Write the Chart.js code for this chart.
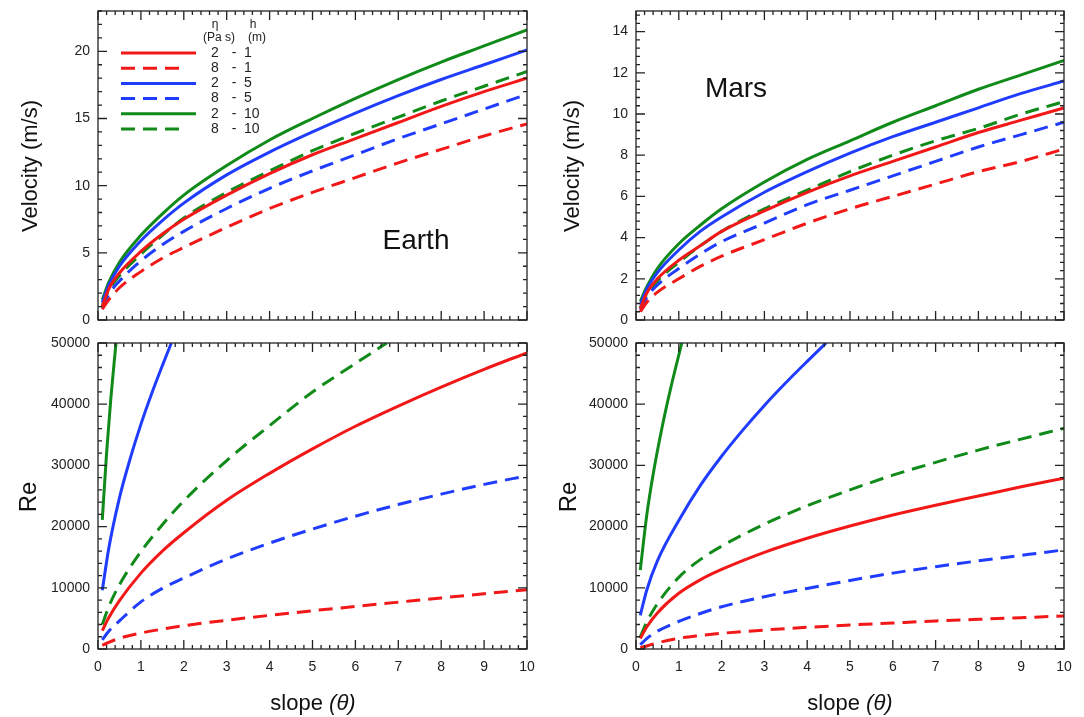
<!DOCTYPE html>
<html>
<head>
<meta charset="utf-8">
<script src="https://cdn.jsdelivr.net/npm/chart.js@4.4.1/dist/chart.umd.min.js"></script>
<style>
  body { margin: 0; background: #fff; }
  #wrap { position: relative; width: 1084px; height: 717px; font-family: Arial, "Liberation Sans", sans-serif; color: #111; }
  canvas { position: absolute; left: 0; top: 0; }
  .lbl { position: absolute; white-space: nowrap; transform: translate(-50%, -50%); }
  .rot { transform: translate(-50%, -50%) rotate(-90deg); }
</style>
</head>
<body>
<div id="wrap">
  <canvas id="velEarth" width="1084" height="717"></canvas>
  <canvas id="reEarth" width="1084" height="717"></canvas>
  <canvas id="velMars" width="1084" height="717"></canvas>
  <canvas id="reMars" width="1084" height="717"></canvas>

  <div class="lbl rot" style="left:30px;top:166px;font-size:22px">Velocity (m/s)</div>
  <div class="lbl rot" style="left:572px;top:166px;font-size:22px">Velocity (m/s)</div>
  <div class="lbl rot" style="left:28px;top:497px;font-size:24px">Re</div>
  <div class="lbl rot" style="left:568px;top:497px;font-size:24px">Re</div>
  <div class="lbl" style="left:313px;top:703px;font-size:22px">slope <i>(&theta;)</i></div>
  <div class="lbl" style="left:850px;top:703px;font-size:22px">slope <i>(&theta;)</i></div>
  <div class="lbl" style="left:416px;top:240px;font-size:28px">Earth</div>
  <div class="lbl" style="left:736px;top:88px;font-size:28px">Mars</div>
</div>
<script>
// slope values (degrees) shared by most curves
const slope = [0.1, 0.25, 0.5, 1, 1.5, 2, 3, 4, 5, 6, 7, 8, 9, 10];

// legend entries: viscosity eta (Pa s) and thickness h (m)
const etaVals = ['2', '8', '2', '8', '2', '8'];
const hVals = ['1', '1', '5', '5', '10', '10'];

// Earth velocity (m/s)
const vE_2_1  = [1.0, 2.3, 3.5, 5.1, 6.4, 7.5, 9.3, 10.9, 12.3, 13.5, 14.7, 15.9, 17.0, 18.0];
const vE_8_1  = [0.8, 1.5, 2.4, 3.6, 4.6, 5.4, 6.9, 8.3, 9.5, 10.6, 11.7, 12.7, 13.7, 14.6];
const vE_2_5  = [1.3, 2.6, 4.0, 5.9, 7.4, 8.7, 10.8, 12.5, 14.0, 15.4, 16.7, 17.9, 19.0, 20.1];
const vE_8_5  = [0.9, 1.9, 2.9, 4.4, 5.6, 6.6, 8.3, 9.8, 11.1, 12.3, 13.5, 14.6, 15.7, 16.8];
const vE_2_10 = [1.5, 2.8, 4.3, 6.3, 7.9, 9.3, 11.5, 13.4, 15.0, 16.5, 17.9, 19.2, 20.4, 21.6];
const vE_8_10 = [1.1, 2.2, 3.3, 4.9, 6.3, 7.6, 9.5, 11.1, 12.6, 13.9, 15.1, 16.3, 17.4, 18.5];

// Mars velocity (m/s)
const vM_2_1  = [0.55, 1.3, 2.0, 2.9, 3.6, 4.3, 5.3, 6.2, 7.0, 7.7, 8.4, 9.1, 9.7, 10.3];
const vM_8_1  = [0.4, 0.85, 1.35, 2.0, 2.6, 3.1, 3.9, 4.7, 5.4, 6.0, 6.6, 7.2, 7.7, 8.3];
const vM_2_5  = [0.75, 1.5, 2.3, 3.4, 4.3, 5.0, 6.2, 7.2, 8.1, 8.9, 9.6, 10.3, 11.0, 11.6];
const vM_8_5  = [0.5, 1.1, 1.7, 2.5, 3.2, 3.8, 4.7, 5.6, 6.3, 7.0, 7.7, 8.4, 9.0, 9.6];
const vM_2_10 = [0.9, 1.6, 2.5, 3.7, 4.6, 5.4, 6.7, 7.8, 8.7, 9.6, 10.4, 11.2, 11.9, 12.6];
const vM_8_10 = [0.6, 1.25, 1.9, 2.8, 3.6, 4.3, 5.4, 6.3, 7.2, 8.0, 8.7, 9.3, 10.0, 10.6];

// Earth Reynolds number
const reE_2_1  = [3000, 5100, 7900, 12400, 16000, 19000, 24300, 28700, 32700, 36400, 39700, 42800, 45700, 48400];
const reE_8_1  = [600, 1100, 1750, 2600, 3250, 3800, 4700, 5500, 6250, 6950, 7650, 8350, 9030, 9700];
const reE_8_5  = [1500, 2900, 4600, 7700, 9900, 11600, 14700, 17300, 19600, 21700, 23600, 25300, 26900, 28300];
const slopeE_8_10 = [0.1, 0.25, 0.5, 1, 1.5, 2, 3, 4, 5, 6, 6.73];
const reE_8_10 = [4000, 6900, 10500, 15900, 20300, 24200, 30800, 36500, 42000, 46650, 50000];
const slopeE_2_5 = [0.1, 0.25, 0.5, 0.75, 1, 1.25, 1.5, 1.71];
const reE_2_5  = [9600, 16400, 24700, 31100, 36700, 41700, 46300, 50000];
const slopeE_2_10 = [0.1, 0.2, 0.3, 0.42];
const reE_2_10 = [21100, 32000, 41000, 50000];

// Mars Reynolds number
const reM_2_1  = [1700, 3600, 5900, 9100, 11300, 13000, 15800, 18100, 20100, 21900, 23500, 25000, 26500, 27900];
const reM_8_1  = [200, 500, 1000, 1750, 2200, 2560, 3100, 3540, 3920, 4250, 4580, 4850, 5120, 5400];
const reM_8_5  = [700, 1700, 2900, 4500, 5800, 6900, 8550, 9900, 11200, 12400, 13450, 14400, 15300, 16200];
const reM_8_10 = [2000, 4400, 7400, 11700, 14600, 16800, 20400, 23400, 26000, 28400, 30500, 32500, 34300, 36060];
const slopeM_2_5 = [0.1, 0.25, 0.5, 1, 1.5, 2, 2.5, 3, 3.5, 4, 4.44];
const reM_2_5  = [5500, 9600, 14400, 21000, 26700, 31500, 35800, 39800, 43500, 47000, 50000];
const slopeM_2_10 = [0.1, 0.25, 0.4, 0.6, 0.8, 1.07];
const reM_2_10 = [12900, 21800, 28500, 35900, 42300, 50000];

// tick labels
const xTickVals = [0, 1, 2, 3, 4, 5, 6, 7, 8, 9, 10];
const velEarthTicks = [0, 5, 10, 15, 20];
const velMarsTicks = [0, 2, 4, 6, 8, 10, 12, 14];
const reTicks = [0, 10000, 20000, 30000, 40000, 50000];

const RED = '#f21818', BLUE = '#1f3cff', GREEN = '#108a18';
const DASH = [14, 8];

const pts = (xs, ys) => xs.map((x, i) => ({ x: x, y: ys[i] }));
const line = (label, color, dashed, data) => ({
  label: label,
  data: data,
  borderColor: color,
  borderWidth: 3,
  borderDash: dashed ? DASH : [],
  pointRadius: 0,
  fill: false,
  cubicInterpolationMode: 'monotone'
});

// inward ticks on all four sides plus the frame
const frameTicks = {
  id: 'frameTicks',
  afterDraw(chart, args, o) {
    const { ctx, chartArea: a } = chart;
    const x = chart.scales.x, y = chart.scales.y;
    ctx.save();
    ctx.strokeStyle = '#222';
    ctx.lineWidth = 1.3;
    ctx.strokeRect(a.left, a.top, a.right - a.left, a.bottom - a.top);
    const walk = (scale, minor, major, fn) => {
      const n = Math.floor((scale.max - scale.min) / minor + 1e-6);
      for (let i = 0; i <= n; i++) {
        const v = scale.min + i * minor;
        const r = v / major;
        fn(scale.getPixelForValue(v), Math.abs(r - Math.round(r)) < 1e-6);
      }
    };
    ctx.beginPath();
    walk(x, o.xMinor, o.xMajor, (p, big) => {
      const len = big ? 9 : 4;
      ctx.moveTo(p, a.bottom); ctx.lineTo(p, a.bottom - len);
      ctx.moveTo(p, a.top); ctx.lineTo(p, a.top + len);
    });
    walk(y, o.yMinor, o.yMajor, (p, big) => {
      const len = big ? 9 : 4;
      ctx.moveTo(a.left, p); ctx.lineTo(a.left + len, p);
      ctx.moveTo(a.right, p); ctx.lineTo(a.right - len, p);
    });
    ctx.stroke();
    ctx.restore();
  }
};

// legend with eta / h columns, drawn inside the Earth velocity panel
const columnLegend = {
  id: 'columnLegend',
  afterDraw(chart, args, o) {
    if (!o.show) return;
    const { ctx, chartArea: a } = chart;
    ctx.save();
    ctx.fillStyle = '#222';
    ctx.textAlign = 'center';
    ctx.textBaseline = 'middle';
    ctx.font = '12px Arial, "Liberation Sans", sans-serif';
    ctx.fillText('\u03b7', a.left + 117, a.top + 14);
    ctx.fillText('(Pa s)', a.left + 121, a.top + 27);
    ctx.fillText('h', a.left + 155, a.top + 14);
    ctx.fillText('(m)', a.left + 159, a.top + 27);
    ctx.font = '14px Arial, "Liberation Sans", sans-serif';
    chart.data.datasets.forEach((ds, i) => {
      const yy = a.top + 42 + i * 15.2;
      const dashed = ds.borderDash.length > 0;
      ctx.strokeStyle = ds.borderColor;
      ctx.lineWidth = 3;
      ctx.setLineDash(ds.borderDash);
      ctx.beginPath();
      ctx.moveTo(a.left + 23, yy);
      ctx.lineTo(a.left + (dashed ? 89 : 98), yy);
      ctx.stroke();
      ctx.setLineDash([]);
      ctx.textAlign = 'center';
      ctx.fillText(etaVals[i], a.left + 117, yy);
      ctx.fillText('-', a.left + 136, yy);
      ctx.textAlign = 'left';
      ctx.fillText(hVals[i], a.left + 146, yy);
    });
    ctx.restore();
  }
};

const Y_W = 70, X_H = 40;
const tickFont = { family: 'Arial, "Liberation Sans", sans-serif', size: 14 };
const noPad = s => { s.paddingTop = 0; s.paddingBottom = 0; s.paddingLeft = 0; s.paddingRight = 0; };

function makeChart(id, rect, yMax, yTicks, yMinor, yMajor, showX, datasets, legend) {
  new Chart(document.getElementById(id), {
    type: 'line',
    data: { datasets: datasets },
    options: {
      responsive: false,
      animation: false,
      events: [],
      layout: {
        autoPadding: false,
        padding: { left: rect.l - Y_W, top: rect.t, right: 1084 - rect.r, bottom: 717 - rect.b - X_H }
      },
      plugins: {
        legend: { display: false },
        tooltip: { enabled: false },
        frameTicks: { xMinor: 0.2, xMajor: 1, yMinor: yMinor, yMajor: yMajor },
        columnLegend: { show: legend }
      },
      scales: {
        x: {
          type: 'linear', min: 0, max: 10,
          grid: { display: false, drawTicks: false },
          border: { display: false },
          ticks: { display: showX, padding: 10, font: tickFont, color: '#222', maxRotation: 0, callback: v => String(v) },
          afterBuildTicks: s => { s.ticks = xTickVals.map(v => ({ value: v })); },
          afterFit: s => { s.height = X_H; noPad(s); }
        },
        y: {
          type: 'linear', min: 0, max: yMax,
          grid: { display: false, drawTicks: false },
          border: { display: false },
          ticks: { padding: 8, font: tickFont, color: '#222', callback: v => String(v) },
          afterBuildTicks: s => { s.ticks = yTicks.map(v => ({ value: v })); },
          afterFit: s => { s.width = Y_W; noPad(s); }
        }
      }
    },
    plugins: [frameTicks, columnLegend]
  });
}

makeChart('velEarth', { l: 98, t: 11, r: 527, b: 320 }, 23, velEarthTicks, 1, 5, false, [
  line('2 - 1', RED, false, pts(slope, vE_2_1)),
  line('8 - 1', RED, true, pts(slope, vE_8_1)),
  line('2 - 5', BLUE, false, pts(slope, vE_2_5)),
  line('8 - 5', BLUE, true, pts(slope, vE_8_5)),
  line('2 - 10', GREEN, false, pts(slope, vE_2_10)),
  line('8 - 10', GREEN, true, pts(slope, vE_8_10))
], true);

makeChart('reEarth', { l: 98, t: 343, r: 527, b: 649 }, 50000, reTicks, 2000, 10000, true, [
  line('2 - 1', RED, false, pts(slope, reE_2_1)),
  line('8 - 1', RED, true, pts(slope, reE_8_1)),
  line('2 - 5', BLUE, false, pts(slopeE_2_5, reE_2_5)),
  line('8 - 5', BLUE, true, pts(slope, reE_8_5)),
  line('2 - 10', GREEN, false, pts(slopeE_2_10, reE_2_10)),
  line('8 - 10', GREEN, true, pts(slopeE_8_10, reE_8_10))
], false);

makeChart('velMars', { l: 636, t: 11, r: 1064, b: 320 }, 15, velMarsTicks, 0.4, 2, false, [
  line('2 - 1', RED, false, pts(slope, vM_2_1)),
  line('8 - 1', RED, true, pts(slope, vM_8_1)),
  line('2 - 5', BLUE, false, pts(slope, vM_2_5)),
  line('8 - 5', BLUE, true, pts(slope, vM_8_5)),
  line('2 - 10', GREEN, false, pts(slope, vM_2_10)),
  line('8 - 10', GREEN, true, pts(slope, vM_8_10))
], false);

makeChart('reMars', { l: 636, t: 343, r: 1064, b: 649 }, 50000, reTicks, 2000, 10000, true, [
  line('2 - 1', RED, false, pts(slope, reM_2_1)),
  line('8 - 1', RED, true, pts(slope, reM_8_1)),
  line('2 - 5', BLUE, false, pts(slopeM_2_5, reM_2_5)),
  line('8 - 5', BLUE, true, pts(slope, reM_8_5)),
  line('2 - 10', GREEN, false, pts(slopeM_2_10, reM_2_10)),
  line('8 - 10', GREEN, true, pts(slope, reM_8_10))
], false);
</script>
</body>
</html>
